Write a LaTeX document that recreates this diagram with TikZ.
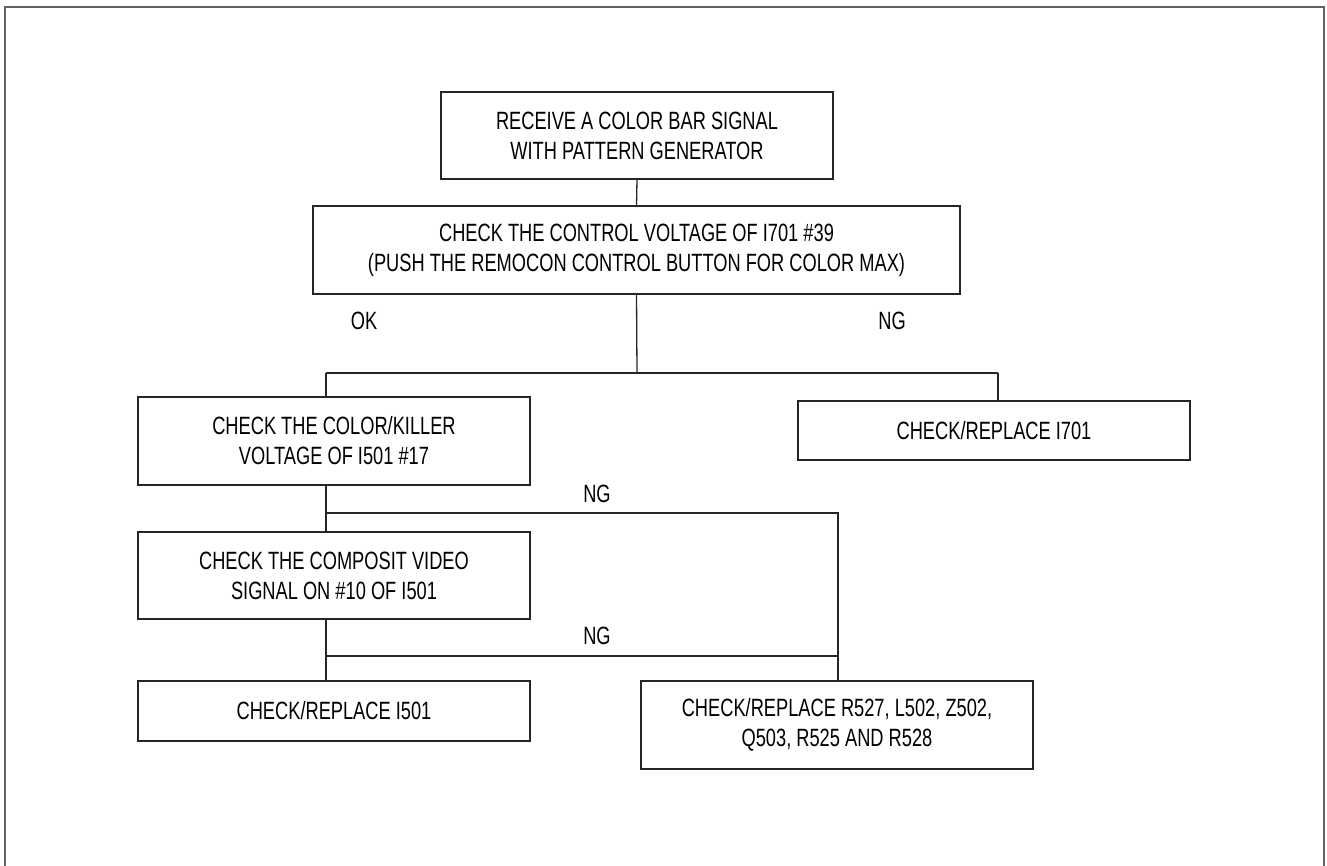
\documentclass[tikz,border=0pt]{standalone}
\usepackage{fontspec}
\setmainfont[FakeStretch=0.73]{Liberation Sans}
\begin{document}
\begin{tikzpicture}[x=1pt,y=-1pt,
  box/.style={draw=black!85,line width=1.3pt,align=center,inner sep=0pt,
    minimum width=392pt,font=\fontsize{25}{30}\selectfont},
  lab/.style={anchor=base,inner sep=0pt,font=\fontsize{25}{30}\selectfont},
  link/.style={draw=black!85,line width=1.3pt}]
\useasboundingbox (0,0) rectangle (1327,865);
\draw[draw=black!62,line width=2pt] (4.5,880) -- (4.5,6.5) -- (1324,6.5) -- (1324,880);
\node[box,minimum height=87pt] (b1) at (637,135.5) {RECEIVE A COLOR BAR SIGNAL\\WITH PATTERN GENERATOR};
\node[box,minimum width=647pt,minimum height=88pt] (b2) at (636.5,250) {CHECK THE CONTROL VOLTAGE OF I701 \#39\\(PUSH THE REMOCON CONTROL BUTTON FOR COLOR MAX)};
\node[box,minimum height=88pt] (b3) at (334,441) {CHECK THE COLOR/KILLER\\VOLTAGE OF I501 \#17};
\node[box,minimum height=59pt] (b4) at (994,430.5) {CHECK/REPLACE I701};
\node[box,minimum height=87pt] (b5) at (334,575.5) {CHECK THE COMPOSIT VIDEO\\SIGNAL ON \#10 OF I501};
\node[box,minimum height=60pt] (b6) at (334,711) {CHECK/REPLACE I501};
\node[box,minimum height=88pt] (b7) at (837,725) {CHECK/REPLACE R527, L502, Z502,\\Q503, R525 AND R528};
\coordinate (j1) at (637,373);
\coordinate (jl) at (326,373);
\coordinate (jr) at (998,373);
\coordinate (k1) at (326,513);
\coordinate (k2) at (838,513);
\coordinate (m1) at (326,656);
\coordinate (m2) at (838,656);
\draw[link] (b1.south) -- (b2.north);
\draw[link] (b2.south) -- (j1);
\draw[link,line width=2pt] (jl) -- (j1);
\draw[link] (j1) -- (jr);
\draw[link] (jl) -- (jl |- b3.north);
\draw[link] (jr) -- (jr |- b4.north);
\draw[link] (k1 |- b3.south) -- (k1) -- (k1 |- b5.north);
\draw[link] (k1) -- (k2) -- (k2 |- b7.north);
\draw[link] (m1 |- b5.south) -- (m1) -- (m1 |- b6.north);
\draw[link] (m1) -- (m2);
\node[lab] (ok) at (364,329) {OK};
\node[lab] (ng1) at (892,329) {NG};
\node[lab] (ng2) at (597,502) {NG};
\node[lab] (ng3) at (597,644) {NG};
\end{tikzpicture}
\end{document}
